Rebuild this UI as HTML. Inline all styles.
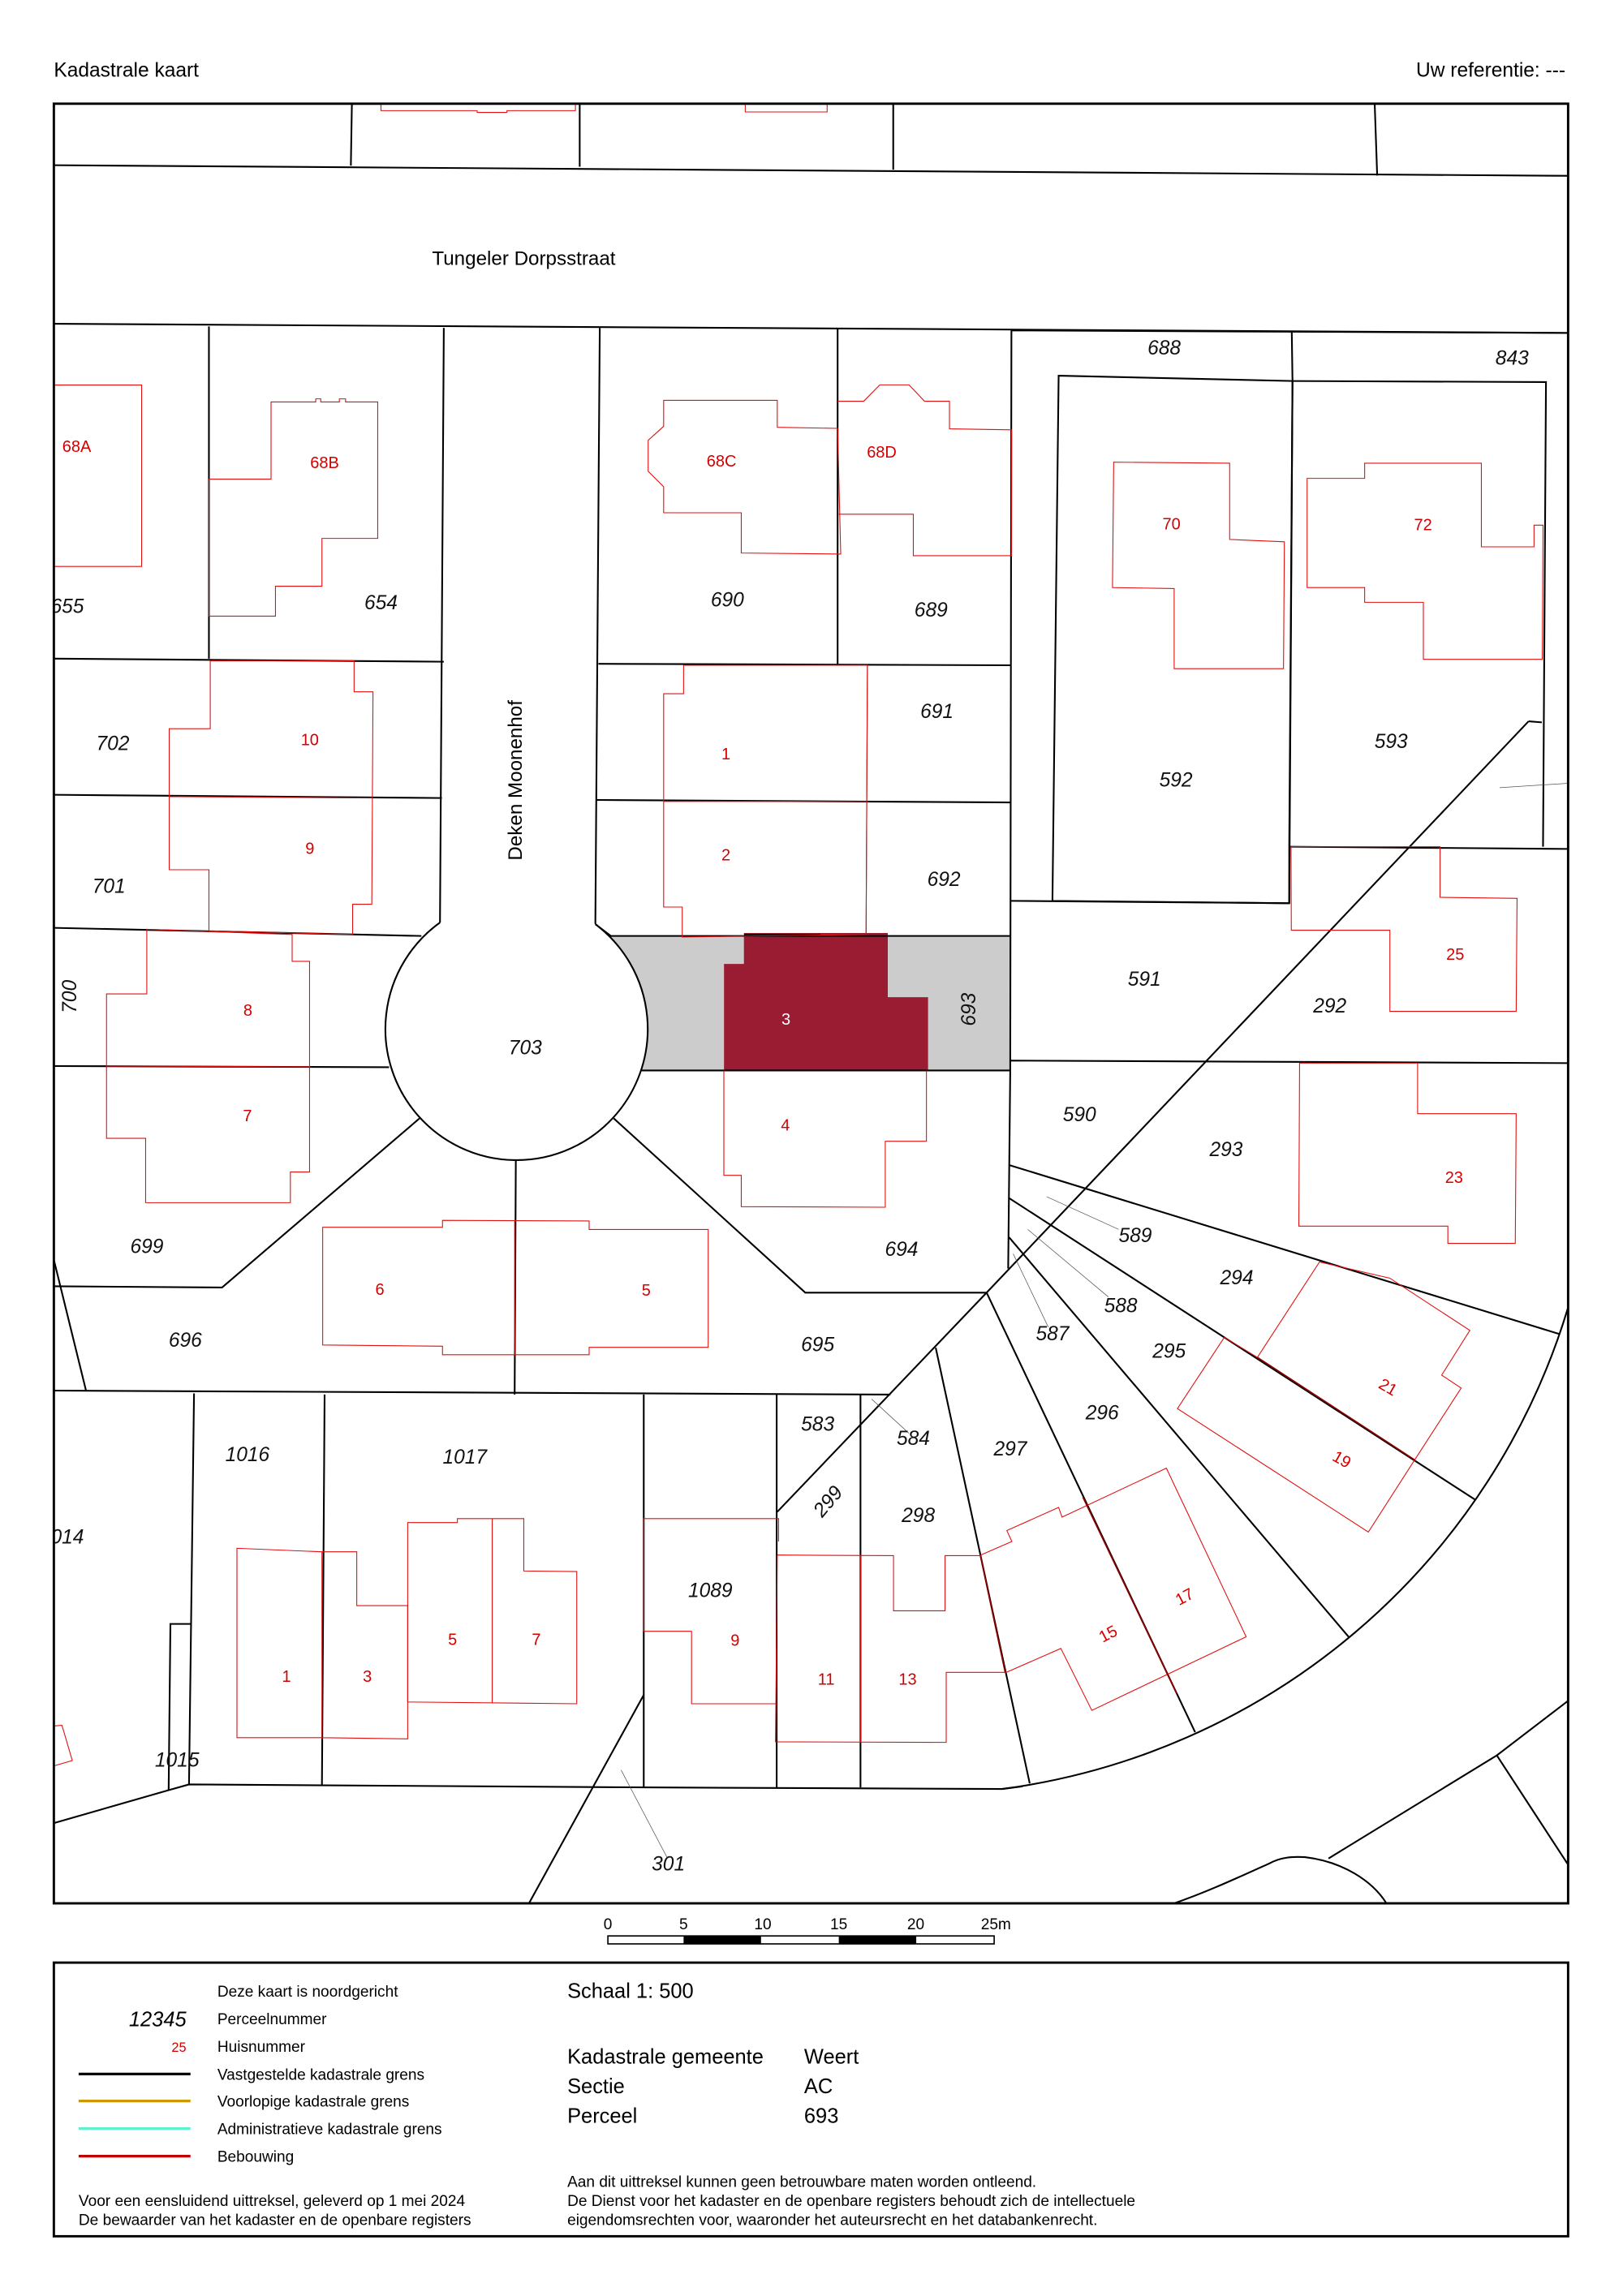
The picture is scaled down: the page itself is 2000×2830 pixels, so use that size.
<!DOCTYPE html>
<html><head><meta charset="utf-8"><style>
html,body{margin:0;padding:0;background:#fff}
svg{display:block}
text{font-family:"Liberation Sans",sans-serif}
.p{font-size:13.5px;font-style:italic;fill:#111;text-anchor:middle;dominant-baseline:central}
.h{font-size:11px;fill:#d40000;text-anchor:middle;dominant-baseline:central}
.k{fill:none;stroke:#000;stroke-width:1.15}
.r{fill:none;stroke:#e01010;stroke-width:0.6}
.t{fill:none;stroke:#555;stroke-width:0.4}
.l{font-size:10.5px;fill:#000}
.m{font-size:14px;fill:#000}
</style></head><body>
<svg width="2000" height="2830" viewBox="0 0 1100 1556.5" xmlns="http://www.w3.org/2000/svg">
<rect width="1100" height="1556.5" fill="#fff"/>
<text x="36.5" y="52" style="font-size:13.5px">Kadastrale kaart</text>
<text x="1061" y="52" style="font-size:13.5px;text-anchor:end">Uw referentie: ---</text>
<defs><clipPath id="c"><rect x="36.5" y="70.3" width="1026.3" height="1220"/></clipPath></defs>
<g clip-path="url(#c)">
<path d="M412.8,634.5 L684.7,634.5 L684.7,725.7 L434.9,725.7 A88.9 88.9 0 0 0 412.8,634.5 Z" fill="#cccccc"/>
<path d="M504.5,632.8 L601.4,632.8 L601.4,676.3 L628.7,676.3 L628.7,725.7 L491,725.7 L491,653.8 L504.5,653.8 Z" fill="#9a1c33" stroke="#9a1c33" stroke-width="0.6"/>
<g class="k">
<path d="M36.5,112 L1063,119.2"/>
<path d="M238.5,70 L237.8,112.3 M392.9,70 L392.9,113 M605.4,70 L605.4,115 M931.7,70 L933.4,119"/>
<path d="M36.5,219.5 L1063,225.7"/>
<path d="M141.6,221.3 L141.6,446.5"/>
<path d="M300.8,222.3 L298.2,625.4 M406.5,222.3 L403.5,626.5"/>
<circle cx="350.5" cy="697.9" r="88.9" fill="#fff" stroke="none"/>
<path d="M298.2,625.4 A88.9 88.9 0 1 0 403.5,626.5"/>
<path d="M567.7,223 L567.7,450.4"/>
<path d="M685.5,223.7 L684.7,725.7 L683.3,860"/>
<path d="M36.5,446.5 L300.8,448.6"/>
<path d="M36.5,538.8 L299.5,541"/>
<path d="M36.5,629 L285.6,634.5"/>
<path d="M36.5,722.7 L263.7,723.5"/>
<path d="M405.6,450 L684.7,451"/>
<path d="M404.3,542.3 L684.7,544"/>
<path d="M403.5,626.5 L414,634.5 L684.7,634.5"/>
<path d="M434.9,725.7 L684.7,725.7"/>
<path d="M504.5,634 L556,634" stroke-width="1.8"/>
<path d="M284.3,758.2 L150.5,872.8 L37,872"/>
<path d="M36.5,854 L58.3,942.7"/>
<path d="M349.6,786.8 L348.8,945.4"/>
<path d="M416,758.2 L545.8,876.3 L668.7,876.3"/>
<path d="M36.5,942.7 L603.5,945.4"/>
<path d="M131.5,944.6 L128.1,1209.7 M220,945.4 L218.2,1209.7 M436.3,945.4 L436.3,1211.7 M526.4,945.4 L526.4,1211.7 M583.2,945.4 L583.2,1211.7"/>
<path d="M36.5,1235.9 L114.3,1213.6 L128.1,1209.7 L436.3,1211.7 L679.2,1212.8 L693,1211"/>
<path d="M114.3,1213.6 L115.5,1100.9 L129,1100.9"/>
<path d="M436.3,1149 L358.4,1290.5"/>
<path d="M685.5,224 L1063,225.7"/>
<path d="M875.5,224.7 L876,258.3 L873.8,574 L873.8,612.3"/>
<path d="M717.5,254.7 L876,258.3 L873.8,612.3 L713.3,610.7 Z"/>
<path d="M876,258.3 L1047.8,259 L1045.8,574"/>
<path d="M1036,489 L1045,489.7"/>
<path d="M873.8,574 L1062.7,575.5"/>
<path d="M684.7,610.7 L873.8,612.3"/>
<path d="M684.7,719 L1062.7,720.7"/>
<path d="M1036,489 L668.7,876.3 L526.8,1024.9"/>
<path d="M683.9,789.8 L1057,904.4"/>
<path d="M683.9,812.2 L999.5,1016.5"/>
<path d="M683.9,838.8 L914,1109.6"/>
<path d="M668.7,876.3 L810,1174.3"/>
<path d="M634.2,913.7 L697.9,1209"/>
<path d="M1062.6,887 A464.5 464.5 0 0 1 679.2,1212.8"/>
<path d="M796,1290.2 C820,1282 845,1270 859.8,1263.5 C868,1259 876,1258.5 884.4,1259 C910,1262 930,1275 939.6,1290.2"/>
<path d="M900.4,1259.9 L1014.5,1190 L1062.4,1153.3"/>
<path d="M1014.5,1190 L1062.4,1263.5"/>
</g>
<g class="t">
<path d="M1016.4,534 L1062.7,531"/>
<path d="M709.4,811.3 L758.2,833.4"/>
<path d="M696.5,833.4 L751.2,879.2"/>
<path d="M686.7,850 L710.5,899.7"/>
<path d="M590.8,948.5 L616,971.6"/>
<path d="M421,1200 L452,1259"/>
<path d="M587.9,451 L587,633.5" stroke="#333" stroke-width="0.6"/>
</g>
<g class="r">
<path d="M258.2,70 L258.2,75 L323.4,75 L323.4,76.2 L343.6,76.2 L343.6,75 L390,75 L390,70"/>
<path d="M505.1,70 L505.1,75.9 L560.6,75.9 L560.6,70"/>
<path d="M36.5,261 L96,261 L96,384 L36.5,384"/>
<path d="M183.7,272.5 L214,272.5 L214,270.4 L217.4,270.4 L217.4,272.5 L230,272.5 L230,270.4 L234.2,270.4 L234.2,272.5 L256,272.5 L256,365 L218.2,365 L218.2,397.4 L186.7,397.4 L186.7,417.7 L141.6,417.7 L141.6,324.8 L183.7,324.8 Z"/>
<path d="M449.8,271.4 L526.8,271.4 L526.8,289.7 L567.7,290.4 L569.8,375.6 L502.4,374.9 L502.4,347.6 L449.8,347.6 L449.8,330 L439.3,319.5 L439.3,298.5 L449.8,289 Z"/>
<path d="M567.7,272 L585.4,272 L596.3,260.9 L616.1,260.9 L626.6,272 L643.5,272 L643.5,290.7 L685.6,291.4 L685.6,376.7 L619,376.7 L619,348.6 L568.5,348.6"/>
<path d="M754.8,313.3 L833.4,314 L833.4,365.7 L870.5,367.3 L869.9,453.3 L795.8,453.3 L795.8,399 L754,398.3 Z"/>
<path d="M885.9,324.3 L924.9,324.3 L924.9,314 L1004,314 L1004,370.7 L1039.7,370.7 L1039.7,356 L1045.8,356 L1045.3,447 L964.7,447 L964.7,408.3 L924.9,408.3 L924.9,398.3 L885.9,398.3 Z"/>
<path d="M142.5,448 L240,448 L240,469 L252.8,469 L252,613 L239,613 L239,633.5 L141.6,631 L141.6,589.6 L114.7,589.6 L114.7,494 L142.5,494 Z M114.7,540 L252.5,541"/>
<path d="M463.3,451 L587.9,451 L587,633.5 L462.4,635.2 L462.4,614.9 L449.8,614.9 L449.8,470.3 L463.3,470.3 Z M449.8,543.3 L587.5,543.3"/>
<path d="M99.5,630 L198,633.5 L198,651.7 L209.8,651.7 L209.8,794.5 L196.8,794.5 L196.8,815.3 L98.7,815.3 L98.7,771.7 L72.2,771.7 L72.2,673.8 L99.5,673.8 Z M72.2,722.7 L209.8,723.2"/>
<path d="M490.6,725.8 L490.6,796.8 L502.4,796.8 L502.4,818 L600,818.4 L600,773.7 L627.9,773.7 L627.9,725.8"/>
<path d="M218.7,832 L299.9,832 L299.9,827.3 L399.3,827.7 L399.3,833.5 L480,833.5 L480,913.4 L399.3,913.4 L399.3,918.4 L299.9,918.4 L299.9,912.6 L218.7,911.8 Z M348.8,827.5 L348.8,918.4"/>
<path d="M875,574 L976,574 L976,608.3 L1028.2,609 L1027.6,685.6 L942,685.6 L942,630.6 L875.2,630.6 Z"/>
<path d="M880.8,720.7 L960.8,720.7 L960.8,755 L1027.6,755 L1027,842.9 L981.3,842.9 L981.3,831.2 L880.3,831.2 Z"/>
<path d="M894.3,855.5 L942,866.5 L996.2,901.9 L977.1,932.2 L990.3,941 L958.8,989.7 L852.2,920.2 Z"/>
<path d="M829.8,906.6 L798,954.9 L927.4,1038.6 L958.8,989.7 M829.8,906.6 L852.2,920.2"/>
<path d="M664.2,1054.4 L685.8,1045 L682.4,1037.6 L717.5,1021.9 L719.8,1028.5 L790.5,995.3 L844.6,1109.6 L740,1159.5 L719,1117.5 L681,1134.2"/>
<path d="M160.6,1049.6 L218.2,1052 L241.8,1052 L241.8,1088.5 L276.3,1088.5 L276.3,1178.8 L218.2,1178 L160.6,1178 Z M218.2,1052 L218.2,1178"/>
<path d="M276.3,1032.2 L310,1032.2 L310,1029.5 L355,1029.5 L355,1065 L390.9,1065.4 L390.9,1155 L276.3,1153.8 Z M333.6,1029.5 L333.6,1154.5"/>
<path d="M436.3,1105.9 L436.3,1029.5 L527.7,1029.5 L527.7,1045 M526.4,1155 L468.7,1155 L468.7,1105.9 L436.3,1105.9"/>
<path d="M526.8,1054.2 L605.6,1054.6 L605.6,1092 L640.5,1092 L640.5,1054.6 L664.5,1054.6 M681.3,1133.7 L641.3,1133.7 L641.3,1181.2 L525.6,1180.8 L526.8,1054.2 M583.2,1054.5 L583.2,1181"/>
<path d="M37,1170 L42,1169.6 L49,1193.5 L37,1197"/>
</g>
<g fill="none" stroke="#8b0000" stroke-width="1">
<path d="M734,1015 L797.5,1148"/>
<path d="M852.2,920.2 L958.8,989.7"/>
<path d="M664.5,1054.6 L681.3,1133.7"/>
</g>
<text x="355" y="175.5" style="font-size:13.3px;text-anchor:middle;dominant-baseline:central">Tungeler Dorpsstraat</text>
<text x="349.6" y="529" style="font-size:13.3px;text-anchor:middle;dominant-baseline:central" transform="rotate(-90 349.6 529)">Deken Moonenhof</text>
<g class="p">
<text x="45.6" y="411.4">655</text><text x="258.2" y="409">654</text><text x="493" y="407">690</text><text x="631" y="414">689</text>
<text x="789" y="236.3">688</text><text x="1024.8" y="243">843</text>
<text x="76.4" y="504.4">702</text><text x="73.8" y="601.2">701</text><text x="635" y="482.6">691</text><text x="639.7" y="596.6">692</text>
<text x="797" y="529">592</text><text x="942.8" y="503">593</text><text x="775.6" y="664">591</text><text x="901.3" y="682.3">292</text>
<text x="47.7" y="675.6" transform="rotate(-90 47.7 675.6)">700</text>
<text x="657" y="684.3" transform="rotate(-90 657 684.3)">693</text>
<text x="356" y="710.6">703</text>
<text x="731.6" y="756">590</text><text x="831" y="779.7">293</text>
<text x="769.4" y="838">589</text><text x="838.2" y="866.5">294</text><text x="759.6" y="885.5">588</text><text x="713.3" y="904.4">587</text>
<text x="792.4" y="916.4">295</text><text x="747" y="958">296</text><text x="684.7" y="982.7">297</text>
<text x="99.5" y="845.4">699</text><text x="611" y="847.4">694</text><text x="125.6" y="909">696</text><text x="554.2" y="911.8">695</text>
<text x="167.7" y="986.3">1016</text><text x="315" y="988.2">1017</text><text x="554.2" y="965.8">583</text><text x="619" y="975.5">584</text>
<text x="561.4" y="1018" transform="rotate(-50 561.4 1018)">299</text>
<text x="622.4" y="1027.6">298</text><text x="45.6" y="1042.2">014</text><text x="481.4" y="1078.5">1089</text>
<text x="120" y="1193.5">1015</text><text x="453" y="1263.8">301</text>
</g>
<g class="h">
<text x="52" y="303">68A</text><text x="220" y="314">68B</text><text x="489" y="313">68C</text><text x="597.6" y="307">68D</text>
<text x="794" y="355.7">70</text><text x="964.5" y="356">72</text>
<text x="210" y="502">10</text><text x="210" y="575.6">9</text><text x="492" y="511.4">1</text><text x="492" y="580">2</text>
<text x="168" y="685.4">8</text><text x="532.7" y="691.4" style="fill:#fff">3</text><text x="986.3" y="647.3">25</text>
<text x="167.7" y="756.7">7</text><text x="532.3" y="763.2">4</text><text x="985.5" y="798.7">23</text>
<text x="257.4" y="874.4">6</text><text x="438" y="875">5</text>
<text x="940.6" y="940.7" transform="rotate(30 940.6 940.7)">21</text>
<text x="909.2" y="989.7" transform="rotate(30 909.2 989.7)">19</text>
<text x="803" y="1082.8" transform="rotate(-28 803 1082.8)">17</text>
<text x="751.2" y="1108" transform="rotate(-28 751.2 1108)">15</text>
<text x="194.2" y="1136.8">1</text><text x="249" y="1136.8">3</text><text x="306.7" y="1111.7">5</text><text x="363.5" y="1111.7">7</text>
<text x="498.2" y="1112.5">9</text><text x="560" y="1138.7">11</text><text x="615.2" y="1138.7">13</text>
</g>
</g>
<rect x="36.5" y="70.3" width="1026.3" height="1220" fill="none" stroke="#000" stroke-width="1.6"/>
<g style="font-size:10.5px;text-anchor:middle">
<text x="412" y="1308">0</text><text x="463.3" y="1308">5</text><text x="517" y="1308">10</text><text x="568.5" y="1308">15</text><text x="620.7" y="1308">20</text><text x="675" y="1308">25m</text>
</g>
<rect x="412" y="1312.4" width="261.8" height="5.4" fill="#fff" stroke="#000" stroke-width="0.9"/>
<rect x="463.3" y="1312.4" width="52.5" height="5.4" fill="#000"/>
<rect x="568.5" y="1312.4" width="52.5" height="5.4" fill="#000"/>
<rect x="36.5" y="1330.5" width="1026.3" height="185.5" fill="none" stroke="#000" stroke-width="1.6"/>
<g class="l">
<text x="147.3" y="1353.5">Deze kaart is noordgericht</text>
<text x="147.3" y="1372.3">Perceelnummer</text>
<text x="147.3" y="1391">Huisnummer</text>
<text x="147.3" y="1409.8">Vastgestelde kadastrale grens</text>
<text x="147.3" y="1428">Voorlopige kadastrale grens</text>
<text x="147.3" y="1446.8">Administratieve kadastrale grens</text>
<text x="147.3" y="1465.5">Bebouwing</text>
<text x="53.3" y="1495.5">Voor een eensluidend uittreksel, geleverd op 1 mei 2024</text>
<text x="53.3" y="1508.5">De bewaarder van het kadaster en de openbare registers</text>
<text x="384.5" y="1482.5">Aan dit uittreksel kunnen geen betrouwbare maten worden ontleend.</text>
<text x="384.5" y="1495.5">De Dienst voor het kadaster en de openbare registers behoudt zich de intellectuele</text>
<text x="384.5" y="1508.5">eigendomsrechten voor, waaronder het auteursrecht en het databankenrecht.</text>
</g>
<text x="126.3" y="1373.5" style="font-size:14px;font-style:italic;text-anchor:end">12345</text>
<text x="126.3" y="1391" style="font-size:9px;fill:#d40000;text-anchor:end">25</text>
<line x1="53.3" y1="1406" x2="129.1" y2="1406" stroke="#000" stroke-width="1.8"/>
<line x1="53.3" y1="1424.3" x2="129.1" y2="1424.3" stroke="#d09800" stroke-width="1.8"/>
<line x1="53.3" y1="1443" x2="129.1" y2="1443" stroke="#60f0d0" stroke-width="1.8"/>
<line x1="53.3" y1="1461.7" x2="129.1" y2="1461.7" stroke="#c00000" stroke-width="1.8"/>
<g class="m">
<text x="384.5" y="1354.5">Schaal 1: 500</text>
<text x="384.5" y="1399">Kadastrale gemeente</text><text x="545" y="1399">Weert</text>
<text x="384.5" y="1419">Sectie</text><text x="545" y="1419">AC</text>
<text x="384.5" y="1439">Perceel</text><text x="545" y="1439">693</text>
</g>
</svg>
</body></html>
